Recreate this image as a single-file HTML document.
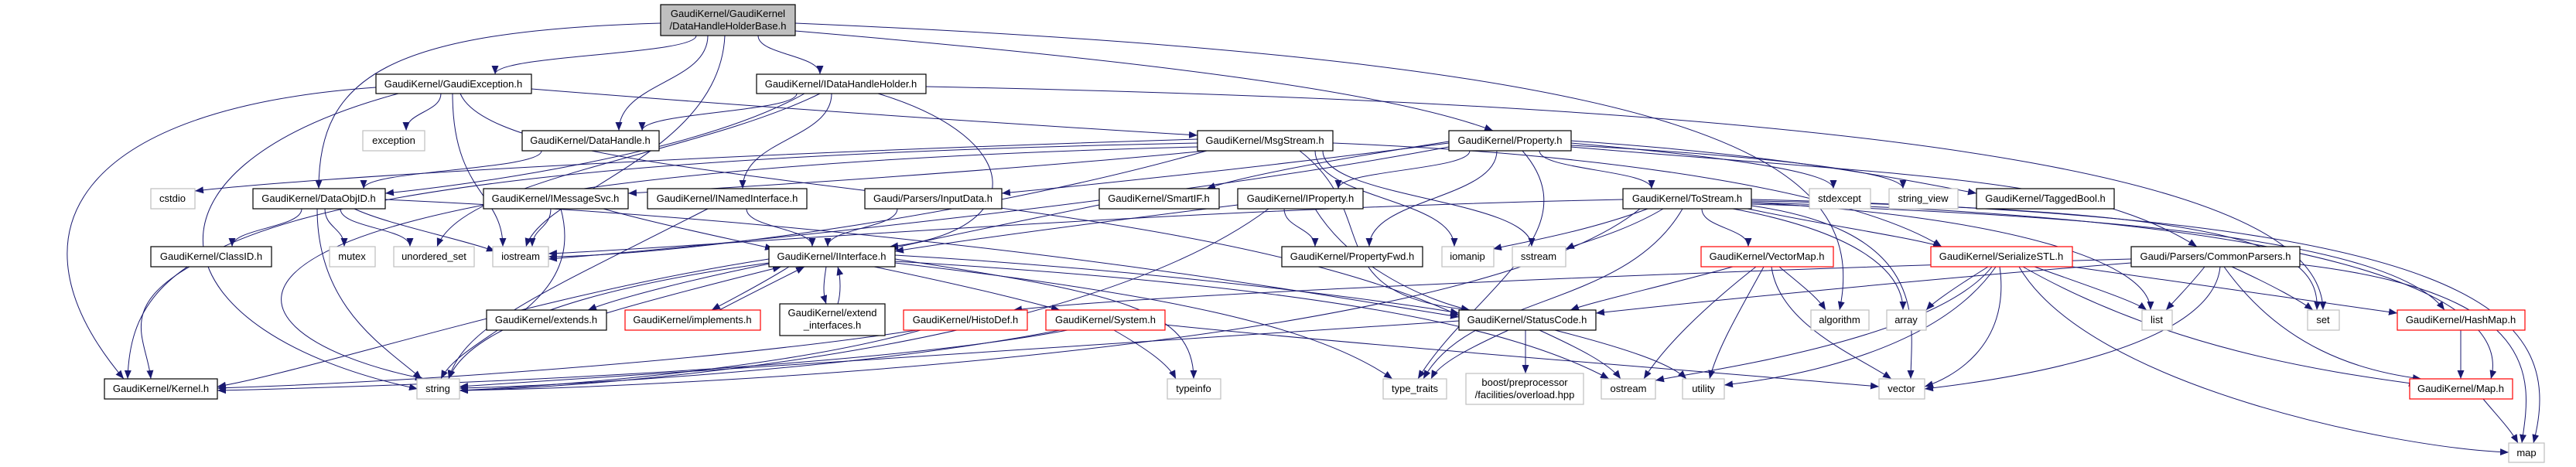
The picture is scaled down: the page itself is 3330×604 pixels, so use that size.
<!DOCTYPE html>
<html><head><meta charset="utf-8"><style>
html,body{margin:0;padding:0;background:#fff;}
svg{display:block;}
text{font-family:"Liberation Sans",sans-serif;font-size:13px;fill:#000;text-anchor:middle;}
.n{fill:#fff;stroke:#000;stroke-width:1.2;}
.g{fill:#fff;stroke:#bfbfbf;stroke-width:1.2;}
.r{fill:#fff;stroke:#ff0000;stroke-width:1.2;}
.e path{fill:none;stroke:#191970;stroke-width:1;marker-end:url(#a);}
</style></head><body>
<svg width="3330" height="604" viewBox="0 0 3330 604" xmlns="http://www.w3.org/2000/svg">
<defs><marker id="a" markerUnits="userSpaceOnUse" markerWidth="12" markerHeight="9" refX="11" refY="4.5" orient="auto"><path d="M0,0 L11,4.5 L0,9 z" fill="#191970"/></marker></defs>
<g class="e">
<path d="M900,46 C900,71 640,71 640,96"/>
<path d="M980,46 C980,71 1060,71 1060,96"/>
<path d="M915,46 C915,107 800,107 800,169"/>
<path d="M854,30 C500,40 412,100 412,244"/>
<path d="M1028,40 C1500,80 1800,120 1930,169"/>
<path d="M937,46 C930,200 700,250 680,319"/>
<path d="M1028,30 C2200,80 2420,200 2378,401"/>
<path d="M570,121 C570,145 525,145 525,169"/>
<path d="M486,113 C100,140 0,300 160,490"/>
<path d="M515,121 C150,220 200,430 540,503"/>
<path d="M585,121 C585,250 650,250 650,319"/>
<path d="M687,115 C1000,140 1300,160 1548,175"/>
<path d="M595,121 C650,250 1500,230 1886,408"/>
<path d="M1030,121 C1030,145 830,145 830,169"/>
<path d="M1040,121 C900,200 600,240 498,250"/>
<path d="M1075,121 C1075,180 960,180 960,244"/>
<path d="M1135,121 C1330,180 1330,300 1150,319"/>
<path d="M1197,112 C2600,140 3000,250 3003,401"/>
<path d="M1060,121 C900,200 600,230 565,319"/>
<path d="M700,195 C700,220 470,220 470,244"/>
<path d="M1548,180 C900,200 400,230 252,247"/>
<path d="M1560,195 C1300,220 1000,240 812,250"/>
<path d="M1548,185 C300,210 170,320 165,490"/>
<path d="M1548,190 C150,225 250,430 548,490"/>
<path d="M1700,195 C1700,257 1880,257 1880,319"/>
<path d="M1710,195 C1710,257 1980,257 1980,319"/>
<path d="M1560,195 C1300,270 900,330 709,332"/>
<path d="M1723,185 C2100,200 2400,250 2510,319"/>
<path d="M1680,195 C1790,280 1700,380 1900,401"/>
<path d="M1900,195 C1900,220 1730,220 1730,244"/>
<path d="M1935,195 C1935,257 1770,257 1770,319"/>
<path d="M1990,195 C1990,220 2135,220 2135,244"/>
<path d="M2031,185 C2200,200 2370,220 2370,244"/>
<path d="M2031,188 C2250,200 2460,220 2460,244"/>
<path d="M2031,182 C2300,200 2450,230 2555,250"/>
<path d="M1873,183 C1700,210 1600,230 1560,244"/>
<path d="M1873,185 C1600,220 1400,240 1295,250"/>
<path d="M2031,190 C2500,230 2700,230 2840,319"/>
<path d="M1873,190 C1500,260 900,320 709,335"/>
<path d="M1968,195 C2060,300 1900,380 1833,490"/>
<path d="M390,270 C390,295 300,295 300,319"/>
<path d="M420,270 C420,295 445,295 445,319"/>
<path d="M440,270 C440,295 530,295 530,319"/>
<path d="M458,270 C500,290 600,310 640,325"/>
<path d="M410,270 C410,400 500,450 545,490"/>
<path d="M498,258 C1200,290 1700,380 1886,410"/>
<path d="M245,345 C150,400 190,440 195,490"/>
<path d="M712,270 C712,295 688,295 688,319"/>
<path d="M725,270 C760,400 600,430 570,490"/>
<path d="M780,270 C850,290 950,310 1000,322"/>
<path d="M965,270 C965,295 1050,295 1050,319"/>
<path d="M915,270 C700,380 600,420 580,490"/>
<path d="M1160,270 C1160,295 1070,295 1070,319"/>
<path d="M1421,265 C1300,290 1200,310 1150,322"/>
<path d="M1600,265 C1400,290 1250,310 1157,325"/>
<path d="M1660,270 C1660,295 1700,295 1700,319"/>
<path d="M1700,270 C1750,350 1850,390 1900,401"/>
<path d="M1640,270 C1400,450 800,500 594,505"/>
<path d="M2130,270 C2050,300 1960,315 1930,322"/>
<path d="M2150,270 C2100,300 2040,315 2024,322"/>
<path d="M2200,270 C2200,295 2260,295 2260,319"/>
<path d="M2250,268 C2350,290 2460,305 2510,319"/>
<path d="M2098,258 C1500,270 900,320 709,328"/>
<path d="M2264,262 C2600,280 2780,340 2780,401"/>
<path d="M2264,260 C2900,270 3000,320 2995,401"/>
<path d="M2240,270 C2400,300 2460,350 2460,401"/>
<path d="M2264,258 C3200,280 3320,400 3275,573"/>
<path d="M2264,266 C2500,300 2470,420 2470,490"/>
<path d="M2264,264 C2800,280 3100,320 3160,401"/>
<path d="M2264,262 C3000,280 3250,380 3220,490"/>
<path d="M2120,270 C1900,450 900,500 594,505"/>
<path d="M2175,270 C2100,400 1900,380 1840,490"/>
<path d="M1000,340 C900,360 800,385 760,401"/>
<path d="M784,405 C850,385 950,360 1010,345"/>
<path d="M1020,345 C980,370 940,390 920,401"/>
<path d="M930,401 C970,380 1010,360 1040,345"/>
<path d="M1068,345 C1064,370 1064,380 1068,393"/>
<path d="M1083,393 C1087,380 1087,360 1083,345"/>
<path d="M1130,345 C1250,370 1330,390 1370,401"/>
<path d="M994,335 C700,380 400,480 281,500"/>
<path d="M994,340 C700,380 600,440 580,490"/>
<path d="M1157,335 C1450,380 1543,400 1543,490"/>
<path d="M1157,330 C1500,350 1800,390 1886,405"/>
<path d="M1157,338 C1700,370 1950,420 2080,490"/>
<path d="M1157,340 C1500,380 1700,420 1800,490"/>
<path d="M1190,427 C1000,480 700,500 594,505"/>
<path d="M1185,427 C900,470 500,495 281,502"/>
<path d="M1380,427 C1100,480 500,500 281,505"/>
<path d="M1370,427 C1100,480 700,500 594,502"/>
<path d="M1440,427 C1480,450 1510,470 1520,490"/>
<path d="M1506,420 C1800,450 2200,480 2429,500"/>
<path d="M1950,427 C1900,450 1860,470 1850,490"/>
<path d="M1972,427 C1972,450 1972,460 1972,483"/>
<path d="M1990,427 C2040,450 2080,470 2095,490"/>
<path d="M2010,427 C2100,450 2160,470 2180,490"/>
<path d="M1886,415 C1300,450 800,490 594,500"/>
<path d="M2240,345 C2150,370 2060,390 2030,401"/>
<path d="M2300,345 C2330,370 2350,385 2360,401"/>
<path d="M2270,345 C2200,400 2150,450 2125,490"/>
<path d="M2280,345 C2250,400 2220,450 2210,490"/>
<path d="M2290,345 C2300,420 2400,460 2445,490"/>
<path d="M2570,345 C2530,370 2500,390 2490,401"/>
<path d="M2630,345 C2700,370 2760,390 2775,401"/>
<path d="M2610,345 C2700,500 3100,580 3243,585"/>
<path d="M2585,345 C2600,450 2520,490 2488,500"/>
<path d="M2580,345 C2500,460 2300,490 2229,498"/>
<path d="M2575,345 C2500,440 2200,480 2140,492"/>
<path d="M2615,345 C2800,450 3000,480 3125,497"/>
<path d="M2850,345 C2830,370 2810,390 2800,401"/>
<path d="M2885,345 C2940,370 2975,390 2990,401"/>
<path d="M2875,345 C2950,450 3050,480 3130,490"/>
<path d="M2870,345 C2860,450 2600,490 2488,503"/>
<path d="M2973,342 C3300,380 3270,500 3260,573"/>
<path d="M2755,340 C2500,360 2200,390 2063,405"/>
<path d="M2755,335 C2200,350 1500,380 1310,401"/>
<path d="M2679,345 C2850,370 3000,390 3099,405"/>
<path d="M3181,427 C3181,450 3181,470 3181,490"/>
<path d="M3210,516 C3230,540 3245,555 3255,573"/>
</g>
<g>
<rect x="854" y="6" width="174" height="40" style="fill:#bfbfbf;stroke:#000;stroke-width:1.2"/>
<text x="941" y="22">GaudiKernel/GaudiKernel</text><text x="941" y="38">/DataHandleHolderBase.h</text>
<rect class="n" x="486" y="96" width="201" height="25"/><text x="586" y="113">GaudiKernel/GaudiException.h</text>
<rect class="n" x="978" y="96" width="219" height="25"/><text x="1087" y="113">GaudiKernel/IDataHandleHolder.h</text>
<rect class="g" x="469" y="169" width="80" height="26"/><text x="509" y="186">exception</text>
<rect class="n" x="675" y="169" width="177" height="26"/><text x="763" y="186">GaudiKernel/DataHandle.h</text>
<rect class="n" x="1548" y="169" width="175" height="26"/><text x="1635" y="186">GaudiKernel/MsgStream.h</text>
<rect class="n" x="1873" y="169" width="158" height="26"/><text x="1952" y="186">GaudiKernel/Property.h</text>
<rect class="g" x="195" y="244" width="57" height="26"/><text x="223" y="261">cstdio</text>
<rect class="n" x="327" y="244" width="171" height="26"/><text x="412" y="261">GaudiKernel/DataObjID.h</text>
<rect class="n" x="625" y="244" width="187" height="26"/><text x="718" y="261">GaudiKernel/IMessageSvc.h</text>
<rect class="n" x="837" y="244" width="206" height="26"/><text x="940" y="261">GaudiKernel/INamedInterface.h</text>
<rect class="n" x="1118" y="244" width="177" height="26"/><text x="1206" y="261">Gaudi/Parsers/InputData.h</text>
<rect class="n" x="1421" y="244" width="155" height="26"/><text x="1498" y="261">GaudiKernel/SmartIF.h</text>
<rect class="n" x="1600" y="244" width="162" height="26"/><text x="1681" y="261">GaudiKernel/IProperty.h</text>
<rect class="n" x="2098" y="244" width="166" height="26"/><text x="2181" y="261">GaudiKernel/ToStream.h</text>
<rect class="g" x="2339" y="244" width="79" height="26"/><text x="2378" y="261">stdexcept</text>
<rect class="g" x="2442" y="244" width="89" height="26"/><text x="2486" y="261">string_view</text>
<rect class="n" x="2555" y="244" width="178" height="26"/><text x="2644" y="261">GaudiKernel/TaggedBool.h</text>
<rect class="n" x="195" y="319" width="156" height="26"/><text x="273" y="336">GaudiKernel/ClassID.h</text>
<rect class="g" x="426" y="319" width="59" height="26"/><text x="455" y="336">mutex</text>
<rect class="g" x="509" y="319" width="104" height="26"/><text x="561" y="336">unordered_set</text>
<rect class="g" x="637" y="319" width="72" height="26"/><text x="673" y="336">iostream</text>
<rect class="n" x="994" y="319" width="163" height="26"/><text x="1075" y="336">GaudiKernel/IInterface.h</text>
<rect class="n" x="1657" y="319" width="182" height="26"/><text x="1748" y="336">GaudiKernel/PropertyFwd.h</text>
<rect class="g" x="1864" y="319" width="67" height="26"/><text x="1897" y="336">iomanip</text>
<rect class="g" x="1955" y="319" width="69" height="26"/><text x="1989" y="336">sstream</text>
<rect class="r" x="2199" y="319" width="171" height="26"/><text x="2284" y="336">GaudiKernel/VectorMap.h</text>
<rect class="r" x="2496" y="319" width="183" height="26"/><text x="2587" y="336">GaudiKernel/SerializeSTL.h</text>
<rect class="n" x="2755" y="319" width="218" height="26"/><text x="2864" y="336">Gaudi/Parsers/CommonParsers.h</text>
<rect class="n" x="629" y="401" width="155" height="26"/><text x="706" y="418">GaudiKernel/extends.h</text>
<rect class="r" x="808" y="401" width="175" height="26"/><text x="895" y="418">GaudiKernel/implements.h</text>
<rect class="n" x="1008" y="393" width="136" height="41"/><text x="1076" y="409">GaudiKernel/extend</text><text x="1076" y="425">_interfaces.h</text>
<rect class="r" x="1168" y="401" width="160" height="26"/><text x="1248" y="418">GaudiKernel/HistoDef.h</text>
<rect class="r" x="1352" y="401" width="154" height="26"/><text x="1429" y="418">GaudiKernel/System.h</text>
<rect class="n" x="1886" y="401" width="177" height="26"/><text x="1974" y="418">GaudiKernel/StatusCode.h</text>
<rect class="g" x="2341" y="401" width="75" height="26"/><text x="2378" y="418">algorithm</text>
<rect class="g" x="2439" y="401" width="51" height="26"/><text x="2464" y="418">array</text>
<rect class="g" x="2769" y="401" width="39" height="26"/><text x="2788" y="418">list</text>
<rect class="g" x="2983" y="401" width="41" height="26"/><text x="3003" y="418">set</text>
<rect class="r" x="3099" y="401" width="165" height="26"/><text x="3181" y="418">GaudiKernel/HashMap.h</text>
<rect class="n" x="135" y="490" width="146" height="26"/><text x="208" y="507">GaudiKernel/Kernel.h</text>
<rect class="g" x="539" y="490" width="55" height="26"/><text x="566" y="507">string</text>
<rect class="g" x="1509" y="490" width="69" height="26"/><text x="1543" y="507">typeinfo</text>
<rect class="g" x="1788" y="490" width="82" height="26"/><text x="1829" y="507">type_traits</text>
<rect class="g" x="1895" y="483" width="152" height="40"/><text x="1971" y="499">boost/preprocessor</text><text x="1971" y="515">/facilities/overload.hpp</text>
<rect class="g" x="2070" y="490" width="70" height="26"/><text x="2105" y="507">ostream</text>
<rect class="g" x="2175" y="490" width="54" height="26"/><text x="2202" y="507">utility</text>
<rect class="g" x="2429" y="490" width="59" height="26"/><text x="2458" y="507">vector</text>
<rect class="r" x="3115" y="490" width="133" height="26"/><text x="3181" y="507">GaudiKernel/Map.h</text>
<rect class="g" x="3243" y="573" width="46" height="25"/><text x="3266" y="590">map</text>
</g>
</svg>
</body></html>
